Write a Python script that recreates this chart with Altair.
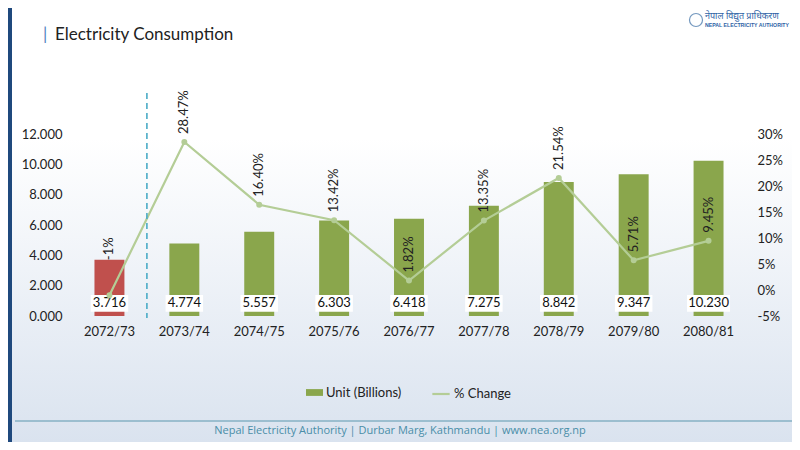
import altair as alt
import pandas as pd

years = ["2072/73", "2073/74", "2074/75", "2075/76", "2076/77", "2077/78", "2078/79", "2079/80", "2080/81"]
units = [3.716, 4.774, 5.557, 6.303, 6.418, 7.275, 8.842, 9.347, 10.230]
pct = [-1, 28.47, 16.40, 13.42, 1.82, 13.35, 21.54, 5.71, 9.45]
pct_labels = ["-1%", "28.47%", "16.40%", "13.42%", "1.82%", "13.35%", "21.54%", "5.71%", "9.45%"]
left_ticks = [0, 2, 4, 6, 8, 10, 12]
right_ticks = [-5, 0, 5, 10, 15, 20, 25, 30]

W, H = 674, 182
PL, PR, PT, PB = 64, 46, 126, 126
FONT = "Lato"
GREEN = "#8AA64C"
RED = "#C0504D"
LINEC = "#B4CD96"

df = pd.DataFrame({"year": years, "units": units, "pct": pct, "plabel": pct_labels})
one = pd.DataFrame({"k": [0]})

xscale = alt.Scale(paddingInner=0.6, paddingOuter=0.3)
x_axis = alt.Axis(labelAngle=0, ticks=False, domain=False, labelFontSize=13, zindex=2,
                  labelOverlap=False, labelColor="#222222", labelFont=FONT, labelPadding=9)
xenc = alt.X("year:N", sort=years, title=None, scale=xscale, axis=x_axis)

ysc_left = alt.Scale(domain=[0, 12], nice=False, zero=False)
ysc_right = alt.Scale(domain=[-5, 30], nice=False, zero=False)
left_axis = alt.Axis(values=left_ticks, format=".3f", ticks=False, domain=False, grid=False, zindex=2,
                     labelOverlap=False, labelFontSize=13, labelColor="#222222", labelFont=FONT,
                     labelPadding=10)
right_axis = alt.Axis(orient="right", values=right_ticks, labelExpr="datum.value + '%'", zindex=2,
                      labelOverlap=False, ticks=False, domain=False, grid=False, labelFontSize=13,
                      labelColor="#222222", labelFont=FONT, labelPadding=11)

base = alt.Chart(df)

# background gradient
bg = alt.Chart(one).mark_rect(
    color=alt.Gradient(gradient="linear", x1=0, x2=0, y1=0, y2=1,
                       stops=[alt.GradientStop(offset=0, color="#FFFFFF"),
                              alt.GradientStop(offset=0.3, color="#FFFFFF"),
                              alt.GradientStop(offset=1, color="#DAE3EF")])
).encode(x=alt.value(-PL), x2=alt.value(W + PR), y=alt.value(-PT), y2=alt.value(H + PB))

strip = alt.Chart(one).mark_rect(color="#1F497D").encode(
    x=alt.value(-PL), x2=alt.value(-PL + 4), y=alt.value(-PT), y2=alt.value(H + PB))

bars = base.transform_calculate(
    series="datum.year == '2072/73' ? 'Base' : 'Unit (Billions)'"
).mark_bar().encode(
    x=xenc,
    y=alt.Y("units:Q", scale=ysc_left, title=None, axis=left_axis),
    color=alt.Color("series:N", title=None,
                    scale=alt.Scale(domain=["Unit (Billions)", "Base"], range=[GREEN, RED]),
                    legend=alt.Legend(values=["Unit (Billions)"], orient="none", legendX=234, legendY=250,
                                      symbolType="M-1,-0.4H1V0.4H-1Z", symbolSize=289, symbolStrokeWidth=0,
                                      labelFontSize=13, labelFont=FONT, labelColor="#222222",
                                      labelOffset=3, padding=0)),
)

boxes = base.transform_calculate(
    lo="0.28", hi="1.385", bw="length(format(datum.units, '.3f')) * 5.5 + 10"
).mark_bar(color="white").encode(
    x=xenc,
    y=alt.Y("lo:Q", scale=ysc_left, title=None, axis=left_axis),
    y2="hi:Q",
    size=alt.Size("bw:Q", scale=None, legend=None),
)

boxtext = base.transform_calculate(mid="0.83").mark_text(
    fontSize=13, font=FONT, color="#111111", baseline="middle"
).encode(
    x=xenc,
    y=alt.Y("mid:Q", scale=ysc_left, title=None, axis=left_axis),
    text=alt.Text("units:Q", format=".3f"),
)

left = alt.layer(bars, boxes, boxtext)

line = base.transform_calculate(lname="'% Change'").mark_line(
    strokeWidth=2.2,
    point=alt.OverlayMarkDef(filled=True, size=16, color=LINEC)
).encode(
    x=xenc,
    y=alt.Y("pct:Q", scale=ysc_right, title=None, axis=right_axis),
    stroke=alt.Stroke("lname:N", title=None,
                      scale=alt.Scale(domain=["% Change"], range=[LINEC]),
                      legend=alt.Legend(orient="none", legendX=359, legendY=250, symbolType="stroke",
                                        symbolSize=300, symbolStrokeWidth=2.2,
                                        labelFontSize=13, labelFont=FONT, labelColor="#222222",
                                        labelOffset=3, padding=0)),
)

ptext = base.transform_filter("datum.year != '2072/73'").mark_text(
    angle=270, align="left", baseline="middle", dx=8,
    fontSize=13, font=FONT, color="#222222").encode(
    x=xenc,
    y=alt.Y("pct:Q", scale=ysc_right, title=None, axis=right_axis),
    text="plabel:N",
)
ptext0 = base.transform_filter("datum.year == '2072/73'").mark_text(
    angle=270, align="left", baseline="middle", dx=35,
    fontSize=13, font=FONT, color="#222222").encode(
    x=xenc,
    y=alt.Y("pct:Q", scale=ysc_right, title=None, axis=right_axis),
    text="plabel:N",
)

right = alt.layer(line, ptext, ptext0)

divider = alt.Chart(one).mark_rule(color="#4BACC6", strokeWidth=1.6, strokeDash=[6, 4]).encode(
    x=alt.value(74.9), y=alt.value(-41), y2=alt.value(184))

title_bar = alt.Chart(one).mark_text(text="|", fontSize=17, font=FONT, color="#4F81BD",
                                     align="left", baseline="middle").encode(
    x=alt.value(-29), y=alt.value(-99))
title = alt.Chart(one).mark_text(text="Electricity Consumption", fontSize=17, font=FONT,
                                 color="#222222", align="left", baseline="middle").encode(
    x=alt.value(-17), y=alt.value(-99))

sep = alt.Chart(one).mark_rule(color="#86B0C4", strokeWidth=1.5).encode(
    x=alt.value(-57), x2=alt.value(W + PR), y=alt.value(287))
footer = alt.Chart(one).mark_text(
    text="Nepal Electricity Authority | Durbar Marg, Kathmandu | www.nea.org.np",
    fontSize=11, font="Open Sans", color="#4A8EA8", align="center", baseline="middle"
).encode(x=alt.value(328), y=alt.value(297))

logo_c = alt.Chart(one).mark_point(shape="circle", size=170, color="#3A6EA5", strokeWidth=1.2,
                                   filled=False).encode(x=alt.value(624), y=alt.value(-114))
logo_t1 = alt.Chart(one).mark_text(text="नेपाल विद्युत प्राधिकरण", fontSize=9, font="Noto Sans",
                                   color="#2E63A6", align="left", baseline="middle").encode(
    x=alt.value(633), y=alt.value(-118))
logo_t2 = alt.Chart(one).mark_text(text="NEPAL ELECTRICITY AUTHORITY", fontSize=5.2, fontWeight="bold",
                                   font="Liberation Sans", color="#2E63A6", align="left",
                                   baseline="middle").encode(x=alt.value(633), y=alt.value(-109))

chart = alt.layer(
    bg, strip, left, right, divider, title_bar, title, sep, footer, logo_c, logo_t1, logo_t2
).resolve_scale(y="independent").properties(
    width=W, height=H,
    padding={"left": PL, "right": PR, "top": PT, "bottom": PB},
    autosize=alt.AutoSizeParams(type="none"),
).configure_view(stroke=None)

chart.save("out.html", embed_options={"renderer": "svg", "actions": False})
